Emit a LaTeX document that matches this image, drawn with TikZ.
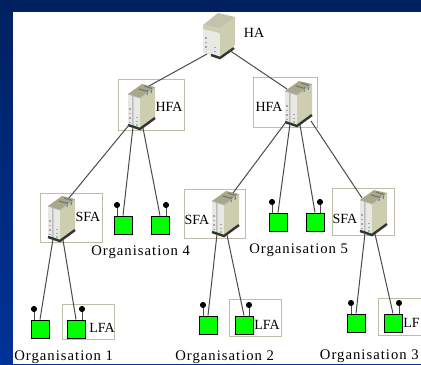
\documentclass[tikz,border=0pt]{standalone}
\usepackage{fontspec}
\setmainfont{Liberation Serif}
\newfontfamily\orgfont[LetterSpace=7]{Liberation Serif}
\definecolor{boxline}{HTML}{BDBDA8}
\definecolor{skintop}{HTML}{A8A88A}
\definecolor{skinside}{HTML}{CDCDB0}
\definecolor{skinfront}{HTML}{E8E8E4}
\definecolor{wayline}{HTML}{4A4A4A}
\definecolor{frametop}{HTML}{002060}
\definecolor{framebottom}{HTML}{003399}
\tikzset{
  agentbox/.style={draw=boxline,line width=.7pt},
  way/.style={draw=wayline,line width=.75pt},
  agent/.style={font=\fontsize{10.5}{10.5}\selectfont,inner sep=0pt},
  org/.style={font=\fontsize{11}{11}\selectfont\orgfont,inner sep=0pt,anchor=west},
  site/.style={draw=black,fill=green,line width=.75pt,minimum size=13.5pt,inner sep=0pt},
  pin/.style={circle,fill=black,minimum size=4.6pt,inner sep=0pt},
  server/.pic={
    \fill[skintop] (1,10) -- (15,0) -- (28,3) -- (13,14) -- cycle;
    \fill[skinfront] (1,10) -- (13,14) -- (13,44) -- (1,40) -- cycle;
    \fill[skinside] (13,14) -- (28,3) -- (28,33) -- (13,44) -- cycle;
    \fill[black!25] (5,11.5) -- (6.5,12) -- (6.5,42) -- (5,41.5) -- cycle;
    \draw[black!55,line width=.8pt] (12,5) -- (21,7.5) (17,2) -- (25,4.5) (21,6) -- (20,11) (25,4) -- (24,9);
    \draw[black!30,line width=.5pt] (1,10) -- (13,14) -- (28,3);
    \draw[black!35,line width=1.4pt,dotted] (3,24) -- (3,38);
    \draw[black!35,line width=1pt,dotted] (10,33) -- (10,38);
    \fill[green!80!black] (10,41) circle (.9);
    \draw[black!80,line width=1.8pt] (1,41) -- (13,45) -- (28,34);
    \coordinate (-tl) at (3,8);
    \coordinate (-tr) at (22,2);
    \coordinate (-bl) at (2,41);
    \coordinate (-bn) at (6,43);
    \coordinate (-bm) at (16,44);
    \coordinate (-br) at (27,40);
  },
  mainserver/.pic={
    \fill[skintop!70!white] (0,12) -- (15,0) -- (32,4) -- (17,16) -- cycle;
    \fill[skinfront] (0,12) -- (17,16) -- (17,44) -- (0,40) -- cycle;
    \fill[skinside] (17,16) -- (32,4) -- (32,32) -- (17,44) -- cycle;
    \fill[skinside] (0,12) -- (17,16) -- (17,20) -- (0,16) -- cycle;
    \draw[black!35,line width=1.4pt,dotted] (3,24) -- (3,36);
    \draw[black!35,line width=1pt,dotted] (12,34) -- (12,40);
    \draw[black!80,line width=1.8pt] (8,42) -- (17,45) -- (31,35);
    \coordinate (-bl) at (4,41);
    \coordinate (-br) at (26,37);
  }
}
\begin{document}
\begin{tikzpicture}[x=.75pt,y=-.75pt]
    % Frame
    \useasboundingbox (0,0) rectangle (421,364);
    \clip (0,0) rectangle (421,364);
    \shade[top color=frametop,bottom color=framebottom] (0,0) rectangle (421,364);
    \fill[white] (13,12) rectangle (421,364);
    % Boxes
    \draw[agentbox] (118,79) rectangle (184,130);
    \draw[agentbox] (253,77) rectangle (317,127);
    \draw[agentbox] (40,193) rectangle (102,242);
    \draw[agentbox] (184,189) rectangle (245,238);
    \draw[agentbox] (332,188) rectangle (394,235);
    \draw[agentbox] (62,304) rectangle (114,339);
    \draw[agentbox] (229,299) rectangle (281,336);
    \draw[agentbox] (378,298) rectangle (430,335);
    % Points
    \pic (ha) at (203,13) {mainserver};
    \pic (hfaA) at (127,84) {server};
    \pic (hfaB) at (284,81) {server};
    \pic (sfaA) at (47,196) {server};
    \pic (sfaB) at (211,191) {server};
    \pic (sfaC) at (359,190) {server};
    \node[site] (siteA) at (40,329) {};
    \node[site] (siteB) at (76,329) {};
    \node[site] (siteC) at (208,325) {};
    \node[site] (siteD) at (244,325) {};
    \node[site] (siteE) at (356,323) {};
    \node[site] (siteF) at (393,323) {};
    \node[site] (siteG) at (123,225) {};
    \node[site] (siteH) at (160,225) {};
    \node[site] (siteI) at (278,222) {};
    \node[site] (siteJ) at (315,222) {};
    \node[pin] (pinA) at (34,309) {};
    \node[pin] (pinB) at (82,309) {};
    \node[pin] (pinC) at (203,305) {};
    \node[pin] (pinD) at (249,305) {};
    \node[pin] (pinE) at (351,303) {};
    \node[pin] (pinF) at (399,303) {};
    \node[pin] (pinG) at (117,205) {};
    \node[pin] (pinH) at (166,205) {};
    \node[pin] (pinI) at (272,202) {};
    \node[pin] (pinJ) at (320,202) {};
    % Ways
    \draw[way] (ha-bl) -- (hfaA-tr);
    \draw[way] (ha-br) -- (hfaB-tl);
    \draw[way] (hfaA-bl) -- (sfaA-tr);
    \draw[way] (hfaA-bn) -- (siteG.north);
    \draw[way] (hfaA-bm) -- (siteH.north);
    \draw[way] (hfaB-bl) -- (sfaB-tr);
    \draw[way] (hfaB-bn) -- (siteI.north);
    \draw[way] (hfaB-bm) -- (siteJ.north);
    \draw[way] (hfaB-br) -- (sfaC-tl);
    \draw[way] (sfaA-bn) -- (siteA.north);
    \draw[way] (sfaA-bm) -- (siteB.north);
    \draw[way] (sfaB-bn) -- (siteC.north);
    \draw[way] (sfaB-bm) -- (siteD.north);
    \draw[way] (sfaC-bn) -- (siteE.north);
    \draw[way] (sfaC-bm) -- (siteF.north);
    \draw[way] (pinA) -- (pinA |- siteA.north);
    \draw[way] (pinB) -- (pinB |- siteB.north);
    \draw[way] (pinC) -- (pinC |- siteC.north);
    \draw[way] (pinD) -- (pinD |- siteD.north);
    \draw[way] (pinE) -- (pinE |- siteE.north);
    \draw[way] (pinF) -- (pinF |- siteF.north);
    \draw[way] (pinG) -- (pinG |- siteG.north);
    \draw[way] (pinH) -- (pinH |- siteH.north);
    \draw[way] (pinI) -- (pinI |- siteI.north);
    \draw[way] (pinJ) -- (pinJ |- siteJ.north);
    % Labels
    \node[agent] (haLabel) at (254,33) {HA};
    \node[agent] (hfaLabelA) at (169,107) {HFA};
    \node[agent] (hfaLabelB) at (269,107) {HFA};
    \node[agent] (sfaLabelA) at (88,217) {SFA};
    \node[agent] (sfaLabelB) at (197,220) {SFA};
    \node[agent] (sfaLabelC) at (345,219) {SFA};
    \node[agent] (lfaLabelA) at (102,328) {LFA};
    \node[agent] (lfaLabelB) at (267,325) {LFA};
    \node[agent,anchor=east] (lfaLabelC) at (420,323) {LF};
    \node[org] (orgA) at (14,357) {Organisation 1};
    \node[org] (orgB) at (175,357) {Organisation 2};
    \node[org,anchor=east] (orgC) at (419,356) {Organisation 3};
    \node[org] (orgD) at (91,252) {Organisation 4};
    \node[org] (orgE) at (249,250) {Organisation 5};
  \end{tikzpicture}
\end{document}
